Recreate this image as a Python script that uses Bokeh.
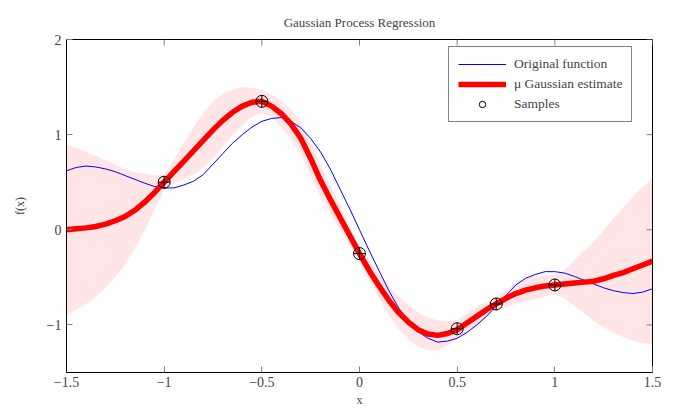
import numpy as np
from bokeh.plotting import figure
from bokeh.models import FixedTicker, Legend, LegendItem
from bokeh.embed import file_html
from bokeh.resources import INLINE

FONT = "Liberation Serif"

# ---- data ----
orig_x = [-1.50, -1.45, -1.40, -1.35, -1.30, -1.25, -1.20, -1.15, -1.10, -1.05,
          -1.00, -0.95, -0.90, -0.85, -0.80, -0.75, -0.70, -0.65, -0.60, -0.55,
          -0.50, -0.45, -0.40, -0.35, -0.30, -0.25, -0.20, -0.15, -0.10, -0.05,
          0.00, 0.05, 0.10, 0.15, 0.20, 0.25, 0.30, 0.35, 0.40, 0.45,
          0.50, 0.55, 0.60, 0.65, 0.70, 0.75, 0.80, 0.85, 0.90, 0.95,
          1.00, 1.05, 1.10, 1.15, 1.20, 1.25, 1.30, 1.35, 1.40, 1.45, 1.50]
orig_y = [0.62, 0.655, 0.67, 0.66, 0.64, 0.61, 0.57, 0.53, 0.49, 0.455,
          0.44, 0.44, 0.47, 0.51, 0.58, 0.69, 0.80, 0.91, 1.00, 1.08,
          1.14, 1.17, 1.18, 1.14, 1.07, 0.96, 0.82, 0.64, 0.43, 0.22,
          0.00, -0.22, -0.43, -0.64, -0.82, -0.96, -1.07, -1.14, -1.18, -1.17,
          -1.14, -1.08, -1.00, -0.91, -0.80, -0.69, -0.58, -0.51, -0.47, -0.44,
          -0.44, -0.455, -0.49, -0.53, -0.57, -0.61, -0.64, -0.66, -0.67, -0.655, -0.62]

gp_x = orig_x
gp_mean = [0.00, 0.01, 0.02, 0.035, 0.06, 0.095, 0.14, 0.205, 0.29, 0.39,
           0.50, 0.61, 0.72, 0.83, 0.94, 1.05, 1.15, 1.235, 1.30, 1.34,
           1.35, 1.30, 1.22, 1.11, 0.96, 0.75, 0.52, 0.32, 0.13, -0.06,
           -0.25, -0.43, -0.59, -0.74, -0.87, -0.97, -1.05, -1.095, -1.11, -1.09,
           -1.05, -0.98, -0.91, -0.84, -0.78, -0.72, -0.67, -0.635, -0.61, -0.59,
           -0.58, -0.57, -0.56, -0.55, -0.54, -0.515, -0.48, -0.45, -0.41, -0.37, -0.33]
gp_halfwidth = [0.90, 0.85, 0.80, 0.74, 0.67, 0.59, 0.50, 0.40, 0.30, 0.18,
                0.08, 0.12, 0.19, 0.25, 0.29, 0.30, 0.28, 0.24, 0.20, 0.15,
                0.12, 0.12, 0.14, 0.16, 0.17, 0.175, 0.17, 0.15, 0.13, 0.10,
                0.08, 0.10, 0.13, 0.155, 0.17, 0.18, 0.18, 0.17, 0.16, 0.13,
                0.10, 0.10, 0.10, 0.08, 0.07, 0.09, 0.11, 0.12, 0.12, 0.11,
                0.10, 0.15, 0.24, 0.33, 0.42, 0.51, 0.60, 0.68, 0.76, 0.82, 0.87]

sample_x = [-1.0, -0.5, 0.0, 0.5, 0.7, 1.0]
sample_y = [0.50, 1.35, -0.25, -1.04, -0.78, -0.58]

x_lim = (-1.5, 1.5)
y_lim = (-1.5, 2.0)
x_ticks = [-1.5, -1.0, -0.5, 0.0, 0.5, 1.0, 1.5]
x_tick_labels = ["\u22121.5", "\u22121", "\u22120.5", "0", "0.5", "1", "1.5"]
y_ticks = [-1.0, 0.0, 1.0, 2.0]
y_tick_labels = ["\u22121", "0", "1", "2"]

upper = (np.array(gp_mean) + np.array(gp_halfwidth)).tolist()
lower = (np.array(gp_mean) - np.array(gp_halfwidth)).tolist()

p = figure(width=686, height=409, x_range=x_lim, y_range=y_lim,
           output_backend="svg", toolbar_location=None,
           min_border_left=66, min_border_right=34, min_border_top=39, min_border_bottom=37,
           x_axis_label="x", y_axis_label="f(x)")
p.grid.visible = False
p.outline_line_color = "black"
p.outline_line_width = 1
p.background_fill_color = "white"
p.border_fill_color = "white"

p.title.text = "Gaussian Process Regression"
p.title.align = "center"
p.title.text_font = FONT
p.title.text_font_size = "13px"
p.title.text_font_style = "normal"
p.title.standoff = 19

bottom_ax = p.below[0]
left_ax = p.left[0]

band = p.varea(x=gp_x, y1=lower, y2=upper, fill_color="red", fill_alpha=0.1)
orig = p.line(orig_x, orig_y, line_color="blue", line_width=1)
mean = p.line(gp_x, gp_mean, line_color="red", line_width=5.5, line_join="round")
circ = p.scatter(sample_x, sample_y, marker="circle", size=12, fill_color=None,
                 line_color="black", line_width=1)
p.scatter(sample_x, sample_y, marker="cross", size=12, line_color="black", line_width=1)

TICK_COLOR = "#808080"
for ax, ticks, labels in ((bottom_ax, x_ticks, x_tick_labels), (left_ax, y_ticks, y_tick_labels)):
    ax.ticker = FixedTicker(ticks=ticks)
    ax.major_tick_in = 6
    ax.major_tick_out = 0
    ax.major_tick_line_color = TICK_COLOR
    ax.minor_tick_line_color = None
    ax.major_label_overrides = {t: l for t, l in zip(ticks, labels)}
    ax.major_label_text_font = FONT
    ax.major_label_text_font_size = "14px"
    ax.axis_line_color = "black"
    ax.axis_label_text_font = FONT
    ax.axis_label_text_font_size = "12px"
    ax.axis_label_text_font_style = "normal"
bottom_ax.major_label_standoff = 4
bottom_ax.axis_label_standoff = 3
left_ax.major_label_standoff = 5
left_ax.axis_label_standoff = 17

# inward ticks on the top and right frame edges
p.ray(x=x_ticks, y=[y_lim[1]] * len(x_ticks), length=6, length_units="screen",
      angle=-np.pi / 2, line_color=TICK_COLOR, line_width=1)
p.ray(x=[x_lim[1]] * len(y_ticks), y=y_ticks, length=6, length_units="screen",
      angle=np.pi, line_color=TICK_COLOR, line_width=1)

legend = Legend(items=[LegendItem(label="Original function", renderers=[orig]),
                       LegendItem(label="\u03bc Gaussian estimate", renderers=[mean]),
                       LegendItem(label="Samples", renderers=[circ])],
                location=(382, 250))
legend.border_line_color = "black"
legend.border_line_width = 1
legend.background_fill_color = "white"
legend.background_fill_alpha = 1.0
legend.label_text_font = FONT
legend.label_text_font_size = "13.5px"
legend.glyph_width = 48
legend.glyph_height = 16
legend.label_standoff = 8
legend.padding = 9
legend.spacing = 4
legend.margin = 0
p.add_layout(legend)

open("out.html", "w").write(file_html(p, INLINE))
